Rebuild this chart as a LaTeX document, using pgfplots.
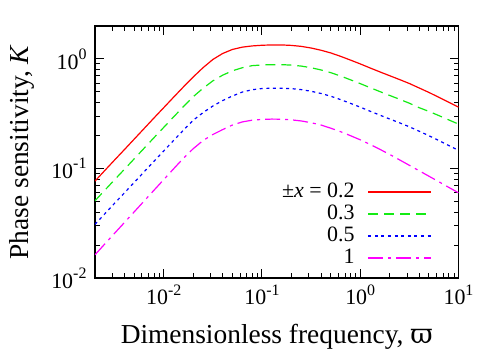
\documentclass[border=0pt]{standalone}
\usepackage{pgfplots}
\pgfplotsset{compat=1.18}
\usepackage{fontspec}
\setmainfont{Liberation Serif}
\newfontfamily\dejavu{DejaVu Serif}
\newcommand{\pw}[1]{\textrm{10\raisebox{0.45em}{\fontsize{16}{16}\selectfont #1}}}
\definecolor{gpred}{RGB}{255,0,0}
\definecolor{gpgreen}{RGB}{20,235,20}
\definecolor{gpblue}{RGB}{0,0,255}
\definecolor{gpmag}{RGB}{255,0,255}
\begin{document}
\begin{tikzpicture}
\useasboundingbox (0,0) rectangle (498bp,349bp);
\begin{axis}[
  at={(95bp,71bp)}, anchor=south west,
  scale only axis, width=363.5bp, height=252bp,
  xmode=log, ymode=log,
  xmin=0.002, xmax=10, ymin=0.01, ymax=2,
  xtick={0.01,0.1,1,10}, xticklabels={\pw{-2},\pw{-1},\pw{0},\pw{1}},
  ytick={0.01,0.1,1}, yticklabels={\pw{-2},\pw{-1},\pw{0}},
  minor xtick={0.003,0.004,0.005,0.006,0.007,0.008,0.009,0.02,0.03,0.04,0.05,0.06,0.07,0.08,0.09,0.2,0.3,0.4,0.5,0.6,0.7,0.8,0.9,2,3,4,5,6,7,8,9},
  minor ytick={0.02,0.03,0.04,0.05,0.06,0.07,0.08,0.09,0.2,0.3,0.4,0.5,0.6,0.7,0.8,0.9},
  tick align=inside,
  major tick length=9bp, minor tick length=5bp,
  every tick/.style={black, line width=1bp},
  axis line style={line width=1.4bp},
  ticklabel style={font=\fontsize{22}{24}\selectfont},
  xticklabel style={yshift=-3bp},
  yticklabel style={xshift=-5bp},
  xlabel={Dimensionless frequency, {\dejavu ϖ}},
  ylabel={Phase sensitivity, \textit{K}},
  every axis x label/.style={at={(axis description cs:0.5,-0.258)}, anchor=base, font=\fontsize{27.5}{30}\selectfont},
  every axis y label/.style={at={(axis description cs:-0.1816,0.5)}, rotate=90, anchor=base, font=\fontsize{27.5}{30}\selectfont},
  legend style={draw=none, fill=none, at={(0.927,0.21)}, anchor=east, legend cell align=right,
    font=\fontsize{22}{22}\selectfont, column sep=13bp, row sep=0bp, inner sep=0pt,
    nodes={inner sep=0pt, text height=16bp, text depth=6bp}},
  legend plot pos=right,
  legend image code/.code={\draw[#1] (0bp,0bp) -- (63bp,0bp);},
]
\addplot[gpred, line width=1.2bp] coordinates {(0.002,0.0767)(0.002512,0.0957)(0.003162,0.1194)(0.003981,0.1486)(0.005012,0.1854)(0.00631,0.2312)(0.007943,0.2884)(0.01,0.3589)(0.01259,0.4467)(0.01585,0.5546)(0.01995,0.6839)(0.02512,0.8318)(0.03162,0.9886)(0.03981,1.122)(0.05012,1.222)(0.0631,1.282)(0.07943,1.315)(0.1,1.334)(0.1259,1.343)(0.1585,1.343)(0.1995,1.330)(0.2512,1.303)(0.3162,1.259)(0.3981,1.202)(0.5012,1.135)(0.631,1.057)(0.7943,0.9772)(1,0.9016)(1.259,0.8279)(1.585,0.7621)(1.995,0.7031)(2.512,0.6486)(3.162,0.5970)(3.981,0.5433)(5.012,0.4943)(6.31,0.4467)(7.943,0.4027)(10,0.3631)};
\addlegendentry{±\textit{x} = 0.2}
\addplot[gpgreen, line width=1.2bp, dash pattern=on 10bp off 6bp] coordinates {(0.002,0.0507)(0.002512,0.0632)(0.003162,0.0789)(0.003981,0.0982)(0.005012,0.1225)(0.00631,0.1528)(0.007943,0.1905)(0.01,0.2371)(0.01259,0.2951)(0.01585,0.3664)(0.01995,0.4519)(0.02512,0.5395)(0.03162,0.6310)(0.03981,0.7112)(0.05012,0.7798)(0.0631,0.8318)(0.07943,0.8688)(0.1,0.8814)(0.1259,0.8873)(0.1585,0.8873)(0.1995,0.8787)(0.2512,0.8609)(0.3162,0.8318)(0.3981,0.7942)(0.5012,0.7499)(0.631,0.6984)(0.7943,0.6456)(1,0.5957)(1.259,0.5470)(1.585,0.5035)(1.995,0.4645)(2.512,0.4285)(3.162,0.3944)(3.981,0.3590)(5.012,0.3319)(6.31,0.3041)(7.943,0.2780)(10,0.2541)};
\addlegendentry{0.3}
\addplot[gpblue, line width=1.2bp, dash pattern=on 3bp off 3.6bp] coordinates {(0.002,0.0309)(0.002512,0.0385)(0.003162,0.0481)(0.003981,0.0598)(0.005012,0.0746)(0.00631,0.0931)(0.007943,0.1161)(0.01,0.1445)(0.01259,0.1799)(0.01585,0.2234)(0.01995,0.2754)(0.02512,0.3236)(0.03162,0.3715)(0.03981,0.4169)(0.05012,0.4592)(0.0631,0.4989)(0.07943,0.5236)(0.1,0.5370)(0.1259,0.5408)(0.1585,0.5408)(0.1995,0.5358)(0.2512,0.5248)(0.3162,0.5070)(0.3981,0.4842)(0.5012,0.4571)(0.631,0.4256)(0.7943,0.3936)(1,0.3631)(1.259,0.3334)(1.585,0.3069)(1.995,0.2831)(2.512,0.2612)(3.162,0.2404)(3.981,0.2188)(5.012,0.1991)(6.31,0.1799)(7.943,0.1622)(10,0.1462)};
\addlegendentry{0.5}
\addplot[gpmag, line width=1.2bp, dash pattern=on 15bp off 5bp on 3bp off 5bp] coordinates {(0.002,0.01629)(0.002512,0.02042)(0.003162,0.02559)(0.003981,0.03206)(0.005012,0.04018)(0.00631,0.05035)(0.007943,0.06310)(0.01,0.07907)(0.01259,0.09908)(0.01585,0.1239)(0.01995,0.1514)(0.02512,0.1799)(0.03162,0.2042)(0.03981,0.2265)(0.05012,0.2495)(0.0631,0.2661)(0.07943,0.2761)(0.1,0.2805)(0.1259,0.2825)(0.1585,0.2818)(0.1995,0.2780)(0.2512,0.2716)(0.3162,0.2618)(0.3981,0.2495)(0.5012,0.2333)(0.631,0.2168)(0.7943,0.1995)(1,0.1828)(1.259,0.1660)(1.585,0.1496)(1.995,0.1343)(2.512,0.1199)(3.162,0.1069)(3.981,0.09528)(5.012,0.08492)(6.31,0.07568)(7.943,0.06730)(10,0.05998)};
\addlegendentry{1}
\end{axis}
\end{tikzpicture}
\end{document}
